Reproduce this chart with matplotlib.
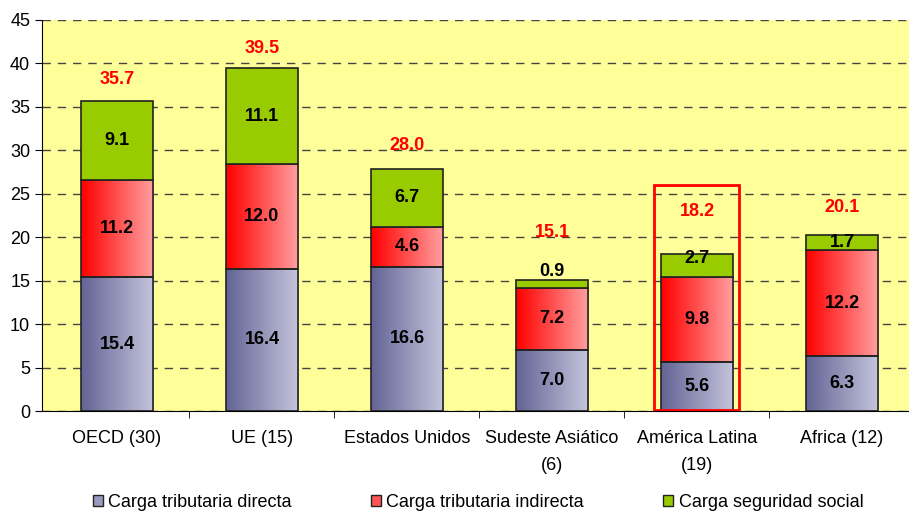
import numpy as np
import matplotlib.pyplot as plt
from matplotlib.patches import Rectangle, Patch
from matplotlib.colors import LinearSegmentedColormap

plt.rcParams['font.family'] = ['Liberation Sans', 'DejaVu Sans']

# Data
categories = ["OECD (30)", "UE (15)", "Estados Unidos", "Sudeste Asiático\n(6)",
              "América Latina\n(19)", "Africa (12)"]
directa = [15.4, 16.4, 16.6, 7.0, 5.6, 6.3]
indirecta = [11.2, 12.0, 4.6, 7.2, 9.8, 12.2]
seguridad = [9.1, 11.1, 6.7, 0.9, 2.7, 1.7]
totales = [35.7, 39.5, 28.0, 15.1, 18.2, 20.1]
series_names = ["Carga tributaria directa", "Carga tributaria indirecta", "Carga seguridad social"]

# label offsets above bar top (as placed in the original)
total_offset = [2.4, 2.2, 2.6, 5.4, 4.8, 3.3]
seg_offset = [0, 0, 0, 1.4, 0.8, 0.1]

fig = plt.figure(figsize=(9.09, 5.11), dpi=100)
ax = fig.add_axes([42/909, 100/511, 870/909, 391/511])
ax.set_facecolor('#FFFF99')

x = np.arange(len(categories))
w = 0.5

cm_blue = LinearSegmentedColormap.from_list('b', ['#646496', '#C4C4DC'])
cm_red = LinearSegmentedColormap.from_list('r', ['#FF0000', '#FFA0A0'])
grad = np.linspace(0, 1, 64).reshape(1, -1)

b1 = ax.bar(x, directa, w, color='none', edgecolor='#222222', linewidth=1.2, zorder=3)
b2 = ax.bar(x, indirecta, w, bottom=directa, color='none', edgecolor='#222222', linewidth=1.2, zorder=3)
bot3 = np.array(directa) + np.array(indirecta)
b3 = ax.bar(x, seguridad, w, bottom=bot3, color='#99CC00', edgecolor='#222222', linewidth=1.2, zorder=3)

for bars, cmap in [(b1, cm_blue), (b2, cm_red)]:
    for r in bars:
        x0, y0 = r.get_x(), r.get_y()
        ax.imshow(grad, cmap=cmap, aspect='auto', zorder=2,
                  extent=[x0, x0 + r.get_width(), y0, y0 + r.get_height()])

# segment labels
for i in range(len(x)):
    ax.text(x[i], directa[i] / 2, f"{directa[i]:.1f}", ha='center', va='center',
            fontsize=13, fontweight='bold', zorder=5)
    ax.text(x[i], directa[i] + indirecta[i] / 2, f"{indirecta[i]:.1f}", ha='center',
            va='center', fontsize=13, fontweight='bold', zorder=5)
    ys = bot3[i] + seguridad[i] / 2 + seg_offset[i]
    ax.text(x[i], ys, f"{seguridad[i]:.1f}", ha='center', va='center',
            fontsize=13, fontweight='bold', zorder=5)
    ax.text(x[i], totales[i] + total_offset[i], f"{totales[i]:.1f}", ha='center',
            va='center', fontsize=13, fontweight='bold', color='red', zorder=5)

# highlight box around América Latina
ax.add_patch(Rectangle((4 - 0.293, 0.1), 0.586, 25.9, fill=False,
                       edgecolor='red', linewidth=2, zorder=6))

ax.set_xlim(-0.517, 5.483)
ax.set_ylim(0, 45)
ax.set_yticks(np.arange(0, 46, 5))
ax.set_xticks(x)
ax.set_xticklabels(categories, fontsize=13, linespacing=1.7)
ax.set_xticks(x[:-1] + 0.5, minor=True)
ax.tick_params(axis='y', labelsize=13, direction='out', length=5)
ax.tick_params(axis='x', which='major', length=0, pad=14)
ax.tick_params(axis='x', which='minor', length=5, direction='out')
ax.yaxis.grid(True, linestyle=(0, (6, 5)), color='#444444', linewidth=1)
ax.set_axisbelow(True)
for s in ['top', 'right']:
    ax.spines[s].set_visible(False)
ax.spines['left'].set_color('black')
ax.spines['bottom'].set_color('black')

handles = [Patch(facecolor='#9A9AC0', edgecolor='#222222'),
           Patch(facecolor='#FF5555', edgecolor='#222222'),
           Patch(facecolor='#99CC00', edgecolor='#222222')]
fig.legend(handles, series_names, loc='center', bbox_to_anchor=(0.526, 0.017), ncol=3,
           frameon=False, fontsize=13, handlelength=0.55, handleheight=0.6,
           handletextpad=0.3, columnspacing=4.4)

fig.savefig('out.png', dpi=100)
